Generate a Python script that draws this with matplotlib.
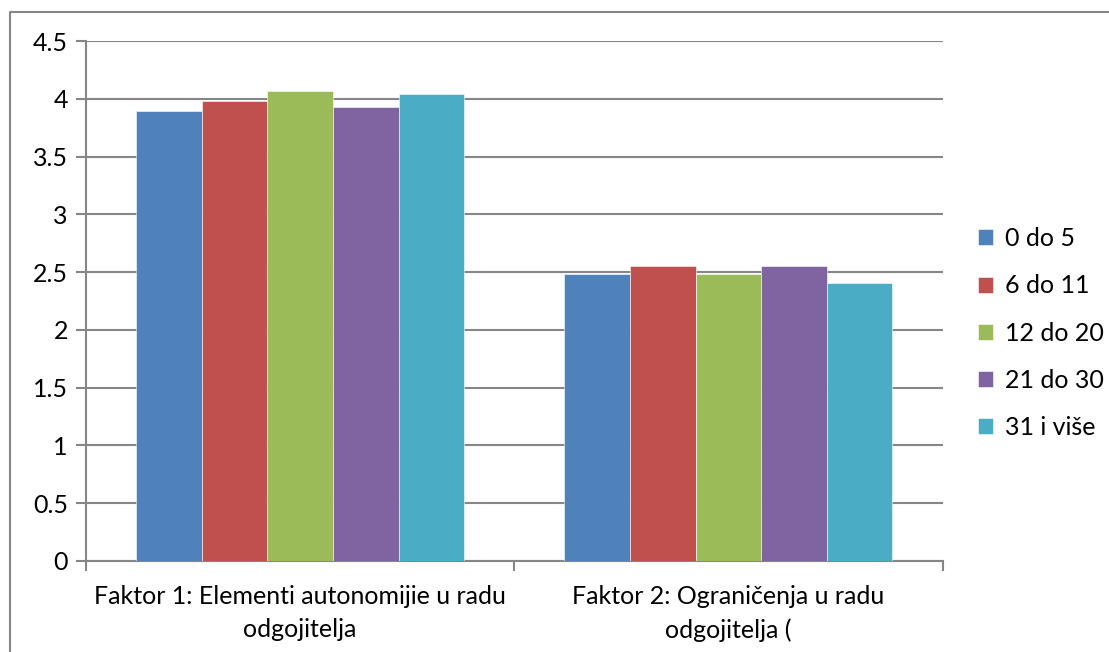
import numpy as np
import matplotlib.pyplot as plt
from matplotlib.lines import Line2D

# Podaci
kategorije = ["Faktor 1: Elementi autonomijie u radu\nodgojitelja",
              "Faktor 2: Ograničenja u radu\nodgojitelja ("]
serije = ["0 do 5", "6 do 11", "12 do 20", "21 do 30", "31 i više"]
v_0_5 = [3.89, 2.48]
v_6_11 = [3.98, 2.55]
v_12_20 = [4.07, 2.48]
v_21_30 = [3.93, 2.55]
v_31 = [4.04, 2.41]
boje = ["#4f81bd", "#c0504d", "#9bbb59", "#8064a2", "#4bacc6"]

vrijednosti = [v_0_5, v_6_11, v_12_20, v_21_30, v_31]

plt.rcParams['font.family'] = ['Lato', 'DejaVu Sans']
fig = plt.figure(figsize=(11.09, 6.52), dpi=100)
ax = fig.add_axes([0.0775, 0.1396, 0.7725, 0.7975])

x = np.arange(len(kategorije))
sirina = 1 / (5 + 1.53)
for i, (ime, vals) in enumerate(zip(serije, vrijednosti)):
    pomak = (i - 2) * sirina
    ax.bar(x + pomak, vals, width=sirina, color=boje[i], label=ime,
           zorder=3, edgecolor='white', linewidth=0.4)

siva = "#868686"
ax.set_ylim(0, 4.5)
ax.set_yticks(np.arange(0, 4.51, 0.5))
ax.set_yticklabels(["0", "0.5", "1", "1.5", "2", "2.5", "3", "3.5", "4", "4.5"])
ax.set_xlim(-0.5, 1.5)
ax.yaxis.grid(True, color=siva, linewidth=1.5, zorder=0)
ax.set_axisbelow(True)

for s in ["top", "right"]:
    ax.spines[s].set_visible(False)
for s in ["left", "bottom"]:
    ax.spines[s].set_color(siva)
    ax.spines[s].set_linewidth(1.5)

ax.tick_params(axis='y', length=7, width=1.5, color=siva, labelsize=18, pad=6)
ax.set_xticks([-0.5, 0.5, 1.5])
ax.set_xticklabels([])
ax.tick_params(axis='x', length=7, width=1.5, color=siva)
ax.set_xticks(x, minor=True)
ax.set_xticklabels(kategorije, minor=True, fontsize=18, linespacing=1.55)
ax.tick_params(axis='x', which='minor', length=0, pad=17)

ax.legend(loc='center left', bbox_to_anchor=(1.03, 0.438), frameon=False,
          fontsize=18, handlelength=0.6, handleheight=0.6,
          handletextpad=0.45, labelspacing=0.97, borderaxespad=0)

# okvir
fig.add_artist(Line2D([10 / 1109, 10 / 1109, 1.0], [0, 1 - 12 / 652, 1 - 12 / 652],
                      transform=fig.transFigure, color=siva, linewidth=1.5))

fig.savefig("out.png", dpi=100)
